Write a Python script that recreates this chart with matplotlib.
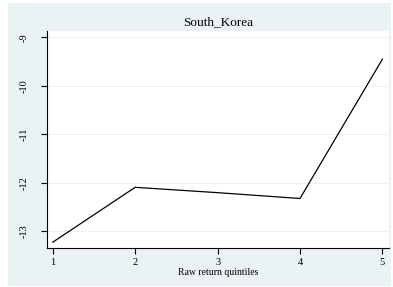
import matplotlib.pyplot as plt
from matplotlib.patches import Rectangle

# values
quintiles = [1, 2, 3, 4, 5]
returns = [-13.22, -12.09, -12.20, -12.32, -9.45]
yticks = [-13, -12, -11, -10, -9]
title = "South_Korea"
xlabel = "Raw return quintiles"

W, H = 393, 287
BG = "#eaf2f3"

plt.rcParams["font.family"] = ["Liberation Serif", "DejaVu Serif"]

fig = plt.figure(figsize=(W / 100, H / 100), dpi=100)
fig.patch.set_facecolor("white")
# Stata-like outer panel
fig.patches.append(Rectangle((8 / W, 1 - 286 / H), 383 / W, 283 / H,
                             transform=fig.transFigure, facecolor=BG,
                             edgecolor="none", zorder=-1))

ax = fig.add_axes([47 / W, 1 - 248 / H, (389 - 47) / W, (248 - 31) / H])
ax.set_zorder(1)
ax.set_facecolor("white")
ax.plot(quintiles, returns, color="black", lw=0.9)

ax.set_xlim(0.93, 5.08)
ax.set_ylim(-13.34, -8.87)
ax.set_xticks(quintiles)
ax.set_yticks(yticks)
ax.set_yticklabels([str(v) for v in yticks], rotation=90, va="center")
ax.grid(axis="y", color=BG, lw=0.8)
ax.set_axisbelow(True)

for s in ["top", "right"]:
    ax.spines[s].set_visible(False)
for s in ["left", "bottom"]:
    ax.spines[s].set_linewidth(0.8)
ax.tick_params(direction="out", length=4, width=0.8, labelsize=7.5)
ax.tick_params(axis="x", pad=3)
ax.tick_params(axis="y", pad=9)

ax.set_xlabel(xlabel, fontsize=7, labelpad=1)
fig.text(218 / W, 1 - 22 / H, title, ha="center", va="center", fontsize=9.5)

fig.savefig("out.png", dpi=100)
